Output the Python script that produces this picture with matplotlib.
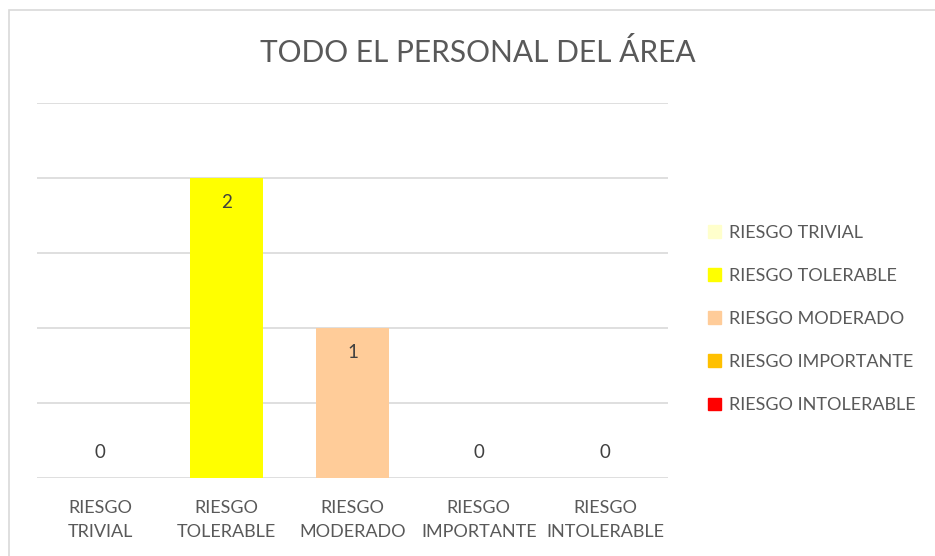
import matplotlib.pyplot as plt
from matplotlib.patches import Rectangle

# chart data
categories = ['RIESGO\nTRIVIAL', 'RIESGO\nTOLERABLE', 'RIESGO\nMODERADO',
              'RIESGO\nIMPORTANTE', 'RIESGO\nINTOLERABLE']
legend_labels = ['RIESGO TRIVIAL', 'RIESGO TOLERABLE', 'RIESGO MODERADO',
                 'RIESGO IMPORTANTE', 'RIESGO INTOLERABLE']
values = [0, 2, 1, 0, 0]
bar_colors = ['#FFFFCC', '#FFFF00', '#FFCC99', '#FFC000', '#FF0000']

TEXT = '#595959'
GRID = '#D9D9D9'
plt.rcParams['font.family'] = ['Lato', 'DejaVu Sans']

fig = plt.figure(figsize=(9.35, 5.56), dpi=100)
W, H = 935, 556

# outer chart border
fig.patches.append(Rectangle((9 / W, -0.1), 1.2, 1 - 10 / H + 0.1,
                             transform=fig.transFigure, fill=False,
                             edgecolor=GRID, linewidth=1.2))

ax = fig.add_axes([37 / W, 1 - 478 / H, (668 - 37) / W, (478 - 103) / H])
x = list(range(len(values)))
bars = ax.bar(x, values, width=0.58, color=bar_colors, zorder=2)

ax.set_xlim(-0.5, len(values) - 0.5)
ax.set_ylim(0, 2.5)
ax.set_yticks([0, 0.5, 1, 1.5, 2, 2.5])
ax.yaxis.grid(True, color=GRID, linewidth=1.2, zorder=0)
ax.set_axisbelow(True)
ax.tick_params(axis='y', left=False, labelleft=False)
ax.tick_params(axis='x', length=0, pad=16, labelsize=13, labelcolor=TEXT)
ax.set_xticks(x)
ax.set_xticklabels(categories, linespacing=1.6)
for s in ax.spines.values():
    s.set_visible(False)

for xi, v in zip(x, values):
    off = -25 if v > 0 else 25
    ax.annotate(str(v), (xi, v), xytext=(0, off), textcoords='offset pixels',
                ha='center', va='center', fontsize=13.5, color='#404040',
                zorder=3)

fig.text(478 / W, 1 - 52 / H, 'TODO EL PERSONAL DEL ÁREA', ha='center',
         va='center', fontsize=21.5, color=TEXT)

# legend
handles = [Rectangle((0, 0), 1, 1, color=c) for c in bar_colors]
fig.legend(handles, legend_labels, loc='center left',
           bbox_to_anchor=(692 / W, 1 - 319 / H), frameon=False,
           fontsize=13, labelcolor=TEXT, handlelength=0.7,
           handleheight=0.7, handletextpad=0.45, labelspacing=1.5)

fig.savefig('out.png', dpi=100, facecolor='white')
